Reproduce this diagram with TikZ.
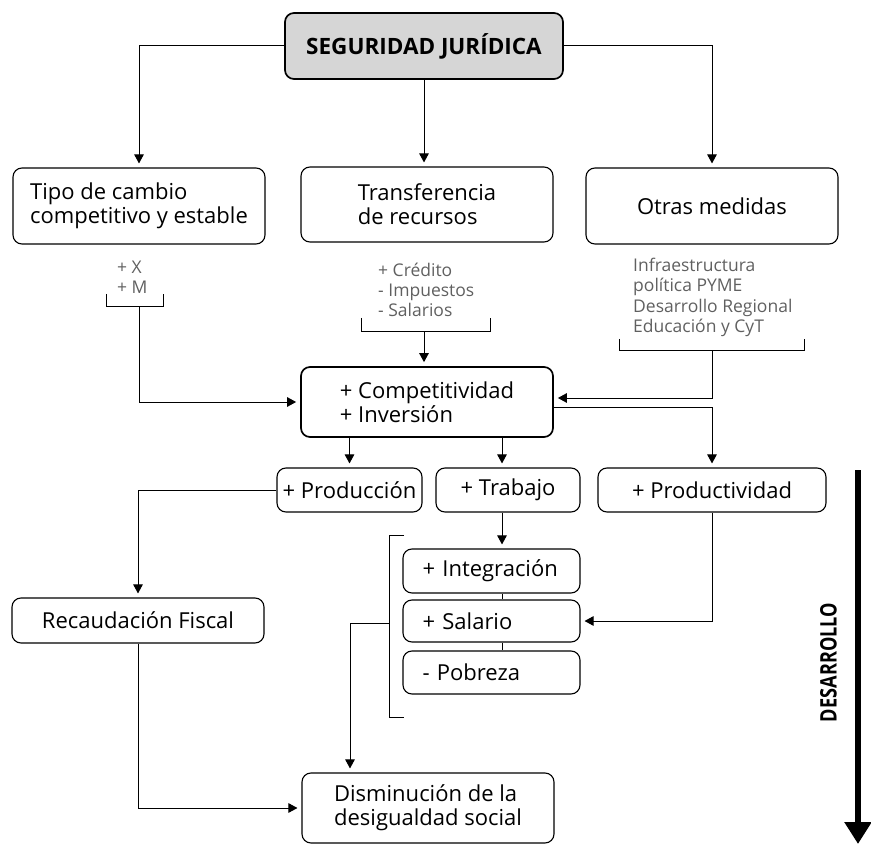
\documentclass[tikz,border=0pt]{standalone}
\usepackage{fontspec}
\setmainfont{Open Sans}
\usetikzlibrary{arrows.meta,calc}
\definecolor{boxgray}{HTML}{D6D6D6}
\definecolor{txtgray}{HTML}{606060}
\begin{document}
\begin{tikzpicture}[x=1pt,y=-1pt,
  box/.style={draw, rounded corners=9pt, line width=1.1pt, inner sep=0pt, align=left,
    font=\fontsize{22}{24}\selectfont},
  heavybox/.style={box, line width=1.7pt},
  small/.style={inner sep=0pt, align=left, text=txtgray, font=\fontsize{17.5}{20.3}\selectfont},
  arr/.style={-{Triangle[length=9pt,width=9.5pt]}, line width=1pt, shorten >=4pt},
  plain/.style={line width=1pt}]
\useasboundingbox (0,0) rectangle (871,845);

% boxes
\node[heavybox, fill=boxgray, minimum width=278pt, minimum height=66pt,
  font=\fontsize{22.5}{24}\selectfont\bfseries] (seg) at (424,46) {SEGURIDAD JURÍDICA};
\node[box, minimum width=252pt, minimum height=76pt] (tipo) at (139,206)
  {Tipo de cambio\\competitivo y estable};
\node[box, minimum width=252pt, minimum height=75pt] (trans) at (427,204.5)
  {Transferencia\\de recursos};
\node[box, minimum width=252pt, minimum height=76pt] (otras) at (712,206) {Otras medidas};
\node[heavybox, minimum width=252pt, minimum height=70pt] (comp) at (427,402)
  {+ Competitividad\\+ Inversión};
\node[box, minimum width=145pt, minimum height=44pt] (prod) at (349.5,490) {+ Producción};
\node[box, minimum width=144pt, minimum height=44pt] (trab) at (508,490) {+ Trabajo};
\node[box, minimum width=228pt, minimum height=44pt] (prodv) at (712,490) {+ Productividad};
\node[box, minimum width=177pt, minimum height=44pt, text width=138pt] (integ) at (491.5,571) {+ Integración};
\node[box, minimum width=177pt, minimum height=42pt, text width=138pt] (sal) at (491.5,621) {+ Salario};
\node[box, minimum width=177pt, minimum height=43pt, text width=138pt] (pob) at (491.5,672.5) {- Pobreza};
\node[box, minimum width=252pt, minimum height=45pt] (rec) at (138,620.5) {Recaudación Fiscal};
\node[box, minimum width=252pt, minimum height=70pt] (dis) at (428,808)
  {Disminución de la\\desigualdad social};

% small gray texts
\node[small, anchor=west] (txm) at (117,277) {+ X\\+ M};
\node[small, anchor=west] (txc) at (378,290) {+ Crédito\\- Impuestos\\- Salarios};
\node[small, anchor=west] (txi) at (633,297.5) {Infraestructura\\política PYME\\Desarrollo Regional\\Educación y CyT};

% top connectors
\draw[arr] (seg.west) -| (tipo.north);
\draw[arr] (seg.south) -- (seg.south |- trans.north);
\draw[arr] (seg.east) -| (otras.north);

% brackets
\coordinate (b1) at (139,307);
\draw[plain] (106,294) -- (106,307) -- (163,307) -- (163,294);
\draw[arr] (b1) |- (comp.west);

\coordinate (b2) at (424,332);
\draw[plain] (361,318) -- (361,332) -- (490,332) -- (490,318);
\draw[arr] (b2) -- (b2 |- comp.north);

\coordinate (b3) at (712,351);
\draw[plain] (619,339) -- (619,351) -- (804,351) -- (804,339);
\draw[arr] (b3) |- ($(comp.east)+(0,-4)$);
\draw[arr] ($(comp.east)+(0,5)$) -| (prodv.north);

% comp to row
\coordinate (xt) at (502,0);
\draw[arr] (prod.north |- comp.south) -- (prod.north);
\draw[arr] (comp.south -| xt) -- (trab.north -| xt);

% row connections
\draw[arr] (prod.west) -| (rec.north);
\draw[arr] (rec.south) |- (dis.west);
\draw[arr] (trab.south -| xt) -- (integ.north -| xt);
\draw[plain] (integ.south -| xt) -- (sal.north -| xt);
\draw[plain] (sal.south -| xt) -- (pob.north -| xt);
\draw[arr] (prodv.south) |- (sal.east);

% big bracket
\draw[plain] (404,535) -- (389,535) -- (389,717) -- (404,717);
\coordinate (bb) at (389,623);
\coordinate (xd) at (350,0);
\draw[arr] (bb) -- (bb -| xd) -- (dis.north -| xd);

% DESARROLLO arrow
\coordinate (d1) at (858,470);
\coordinate (d2) at (858,844);
\draw[line width=6pt, -{Triangle[length=22pt,width=26pt]}] (d1) -- (d2);
\node[rotate=90, inner sep=0pt] (des) at (828.5,662.5)
  {\resizebox{119pt}{16.5pt}{\fontsize{17}{20}\selectfont\bfseries DESARROLLO}};
\end{tikzpicture}
\end{document}
